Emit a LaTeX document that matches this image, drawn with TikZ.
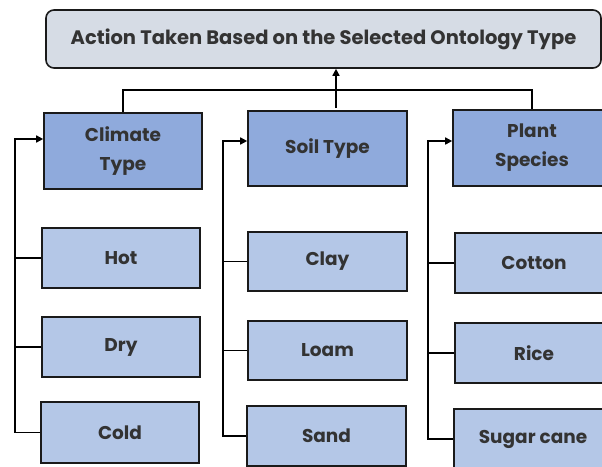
\documentclass[tikz,border=0pt]{standalone}
\usepackage{fontspec}
\setmainfont{Poppins}
\usetikzlibrary{arrows.meta}
\definecolor{parentfill}{HTML}{8FAADC}
\definecolor{childfill}{HTML}{B4C7E7}
\definecolor{topfill}{HTML}{D6DCE5}
\definecolor{txt}{HTML}{333333}
\definecolor{edge}{HTML}{1A1A1A}
\tikzset{
  x=1pt,y=-1pt,
  basebox/.style={draw=edge, line width=1.6pt, inner sep=0pt, align=center,
    text=txt, font=\fontsize{18.5}{29}\selectfont\bfseries},
  topbox/.style={basebox, fill=topfill, rounded corners=8pt,
    minimum width=555pt, minimum height=58pt, font=\fontsize{19.5}{22}\selectfont\bfseries},
  parentbox/.style={basebox, fill=parentfill, minimum width=158pt, minimum height=76pt},
  childbox/.style={basebox, fill=childfill, minimum width=158pt, minimum height=60pt},
  conn/.style={draw=black, line width=1.6pt},
  arr/.style={conn, -{Triangle[length=7pt,width=7pt]}},
}
\begin{document}
\begin{tikzpicture}
\useasboundingbox (0,0) rectangle (602,466);
\fill[white] (0,0) rectangle (602,466);
\clip (0,0) rectangle (602,466);

\node[topbox] (top) at (323.5,39) {Action Taken Based on the Selected Ontology Type};

\node[parentbox] (climate) at (123,151) {Climate\\Type};
\node[parentbox, minimum width=159pt, minimum height=75pt] (soil) at (327.5,148.5) {Soil Type};
\node[parentbox] (plant) at (532,148) {Plant\\Species};

\node[childbox] (hot) at (121,258) {Hot};
\node[childbox] (dry) at (121,347) {Dry};
\node[childbox, minimum height=61pt] (cold) at (120,432.5) {Cold};

\node[childbox, minimum width=159pt, minimum height=59pt] (clay) at (327.5,261.5) {Clay};
\node[childbox, minimum width=159pt, minimum height=59pt] (loam) at (327.5,350.5) {Loam};
\node[childbox, minimum width=159pt] (sand) at (326.5,436) {Sand};

\node[childbox] (cotton) at (534,263) {Cotton};
\node[childbox] (rice) at (534,353) {Rice};
\node[childbox] (sugar) at (533,439) {Sugar cane};

% top connectors
\coordinate (hy) at (0,90);
\draw[conn] (climate.north) |- (plant.north |- hy) -- (plant.north);
\coordinate (sa) at (336,108);
\draw[arr] (sa) -- (sa |- top.south);

% climate rail
\coordinate (ctop) at (15,139);
\draw[arr] (cold.west) -| (ctop) -- (climate.west |- ctop);
\draw[conn] (hot.west) -- (hot.west -| ctop);
\draw[conn] (dry.west) -- (dry.west -| ctop);

% soil rail
\coordinate (stop) at (223,141);
\draw[arr] (sand.west) -| (stop) -- (soil.west |- stop);
\draw[conn] (clay.west) -- (clay.west -| stop);
\draw[conn] (loam.west) -- (loam.west -| stop);

% plant rail
\coordinate (ptop) at (428,141);
\draw[arr] (sugar.west) -| (ptop) -- (plant.west |- ptop);
\draw[conn] (cotton.west) -- (cotton.west -| ptop);
\draw[conn] (rice.west) -- (rice.west -| ptop);
\end{tikzpicture}
\end{document}
